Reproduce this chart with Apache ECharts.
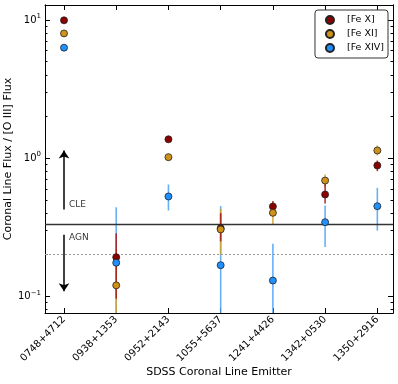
<!DOCTYPE html>
<html>
<head>
<meta charset="utf-8">
<script src="https://cdn.jsdelivr.net/npm/echarts@6/dist/echarts.min.js"></script>
<style>
html, body { margin: 0; padding: 0; background: #fff; }
#chart { width: 398px; height: 384px; }
</style>
</head>
<body>
<div id="chart"></div>
<script>
// Emitters on the x axis
var emitters = ['0748+4712', '0938+1353', '0952+2143', '1055+5637', '1241+4426', '1342+0530', '1350+2916'];
var lineNames = ['[Fe X]', '[Fe XI]', '[Fe XIV]'];

// Ratios, with error bar ends
var feX = [9.95, 0.192, 1.37, 0.311, 0.447, 0.546, 0.885];
var feXLow = [9.7, 0.096, 1.31, 0.25, 0.41, 0.47, 0.805];
var feXHigh = [10.2, 0.286, 1.43, 0.40, 0.49, 0.65, 0.962];

var feXI = [8.0, 0.120, 1.017, 0.305, 0.402, 0.689, 1.137];
var feXILow = [7.8, 0.05, 0.97, 0.20, 0.33, 0.62, 1.046];
var feXIHigh = [8.2, 0.22, 1.07, 0.43, 0.44, 0.762, 1.236];

var feXIV = [6.31, 0.175, 0.528, 0.168, 0.130, 0.344, 0.449];
var feXIVLow = [6.2, 0.05, 0.418, 0.05, 0.05, 0.227, 0.299];
var feXIVHigh = [6.45, 0.441, 0.645, 0.45, 0.24, 0.454, 0.61];

// Tick values for the log axis
var majorTicks = [0.1, 1, 10];
var minorTicks = [0.08, 0.09, 0.2, 0.3, 0.4, 0.5, 0.6, 0.7, 0.8, 0.9, 2, 3, 4, 5, 6, 7, 8, 9];
var majorLabels = { '0.1': '{b|10}{s|\u22121}', '1': '{b|10}{s|0}', '10': '{b|10}{s|1}' };

// Divider lines and the CLE / AGN arrows
var cleLine = 0.33;
var dottedLine = 0.2;
var upArrow = [0.425, 1.137];
var downArrow = [0.279, 0.1087];
var notes = [[0, 0.459, 'CLE'], [0, 0.268, 'AGN']];

var markerColors = ['#8b0000', '#cf9118', '#1e90ff'];
var errColors = ['#a51515', '#d4a22a', '#4aa3f5'];

var yMin = 0.0757, yMax = 12.85;
var xMin = -0.364, xMax = 6.3;
var xTicks = [0, 1, 2, 3, 4, 5, 6];

function errorSeries(low, high, color, z) {
    return {
        type: 'custom',
        name: 'err' + z,
        silent: true,
        z: z,
        data: emitters.map(function(_, i) { return [i, low[i], high[i]]; }),
        renderItem: function(params, api) {
            var x = api.value(0);
            var p1 = api.coord([x, api.value(1)]);
            var p2 = api.coord([x, api.value(2)]);
            var cs = params.coordSys;
            var top = cs.y, bot = cs.y + cs.height;
            var y1 = Math.min(Math.max(p1[1], top), bot);
            var y2 = Math.min(Math.max(p2[1], top), bot);
            return {
                type: 'line',
                shape: { x1: p1[0], y1: y1, x2: p2[0], y2: y2 },
                style: { stroke: color, lineWidth: 1.6, opacity: 0.85 }
            };
        }
    };
}

function markerSeries(idx, values, z) {
    return {
        type: 'scatter',
        name: lineNames[idx],
        z: z,
        symbol: 'circle',
        symbolSize: 7,
        itemStyle: { color: markerColors[idx], borderColor: '#222', borderWidth: 0.8, opacity: 1 },
        data: values.map(function(v, i) { return [i, v]; })
    };
}

function yAxisDef(pos, ticks, len, withLabels) {
    return {
        type: 'log',
        logBase: 10,
        min: yMin,
        max: yMax,
        position: pos,
        name: withLabels ? 'Coronal Line Flux / [O III] Flux' : '',
        nameLocation: 'middle',
        nameGap: 31,
        nameMoveOverlap: false,
        nameTextStyle: { fontSize: 11, color: '#000' },
        axisLine: { show: true, onZero: false, lineStyle: { color: '#000', width: 1 } },
        axisTick: { show: true, inside: true, length: len, customValues: ticks, lineStyle: { color: '#000', width: 1 } },
        axisLabel: {
            show: withLabels,
            customValues: majorTicks,
            margin: 4,
            color: '#000',
            formatter: function(v) {
                var key = String(Math.round(v * 1000) / 1000);
                return majorLabels[key] || '';
            },
            rich: {
                b: { fontSize: 10, color: '#000', fontFamily: 'DejaVu Sans' },
                s: { fontSize: 7, color: '#000', fontFamily: 'DejaVu Sans', padding: [0, 0, 7, 0] }
            }
        },
        splitLine: { show: false },
        minorTick: { show: false }
    };
}

var chart = echarts.init(document.getElementById('chart'));
chart.setOption({
    animation: false,
    textStyle: { fontFamily: 'DejaVu Sans' },
    grid: { left: 45, top: 5, right: 5, bottom: 71, containLabel: false, outerBoundsMode: 'none' },
    legend: {
        data: lineNames,
        orient: 'vertical',
        right: 10,
        top: 10,
        padding: [5, 4, 5, 10],
        itemWidth: 8,
        itemHeight: 8,
        itemGap: 4,
        icon: 'circle',
        borderColor: '#333',
        borderWidth: 1,
        borderRadius: 3,
        textStyle: { fontSize: 9.5, color: '#000', padding: [0, 0, 0, 8] }
    },
    xAxis: [
        {
            type: 'value',
            min: xMin,
            max: xMax,
            position: 'bottom',
            name: 'SDSS Coronal Line Emitter',
            nameLocation: 'middle',
            nameGap: 54,
            nameMoveOverlap: false,
            nameTextStyle: { fontSize: 11, color: '#000' },
            axisLine: { show: true, onZero: false, lineStyle: { color: '#000', width: 1 } },
            axisTick: { show: true, inside: true, length: 5, customValues: xTicks, lineStyle: { color: '#000' } },
            axisLabel: {
                customValues: xTicks,
                rotate: 45,
                margin: 5,
                fontSize: 10,
                color: '#000',
                formatter: function(v) { return emitters[Math.round(v)] || ''; }
            },
            splitLine: { show: false }
        },
        {
            type: 'value',
            min: xMin,
            max: xMax,
            position: 'top',
            axisLine: { show: true, onZero: false, lineStyle: { color: '#000', width: 1 } },
            axisTick: { show: true, inside: true, length: 5, customValues: xTicks, lineStyle: { color: '#000' } },
            axisLabel: { show: false },
            splitLine: { show: false }
        }
    ],
    yAxis: [
        yAxisDef('left', majorTicks, 5, true),
        yAxisDef('left', minorTicks, 2.5, false),
        yAxisDef('right', majorTicks, 5, false),
        yAxisDef('right', minorTicks, 2.5, false)
    ],
    series: [
        {
            type: 'scatter',
            name: 'guides',
            z: 1,
            silent: true,
            symbolSize: 0,
            data: notes,
            label: {
                show: true,
                position: 'right',
                distance: 5,
                fontSize: 9,
                color: '#000',
                formatter: function(p) { return p.value[2]; }
            },
            markLine: {
                silent: true,
                symbol: 'none',
                label: { show: false },
                data: [
                    { yAxis: cleLine, lineStyle: { color: '#333', width: 1.4, type: 'solid' } },
                    { yAxis: dottedLine, lineStyle: { color: '#999', width: 1, type: [2, 2] } },
                    [
                        { coord: [0, upArrow[0]], symbol: 'none', lineStyle: { color: '#000', width: 1.5, type: 'solid' } },
                        { coord: [0, upArrow[1]], symbol: 'arrow', symbolSize: 8 }
                    ],
                    [
                        { coord: [0, downArrow[0]], symbol: 'none', lineStyle: { color: '#000', width: 1.5, type: 'solid' } },
                        { coord: [0, downArrow[1]], symbol: 'arrow', symbolSize: 8 }
                    ]
                ]
            }
        },
        errorSeries(feXIVLow, feXIVHigh, errColors[2], 2),
        errorSeries(feXILow, feXIHigh, errColors[1], 3),
        errorSeries(feXLow, feXHigh, errColors[0], 4),
        markerSeries(0, feX, 5),
        markerSeries(1, feXI, 6),
        markerSeries(2, feXIV, 7)
    ]
});
</script>
</body>
</html>
